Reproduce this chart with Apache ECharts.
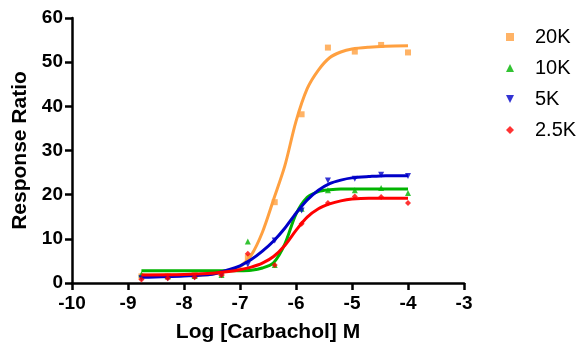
<!DOCTYPE html>
<html>
<head>
<meta charset="utf-8">
<script src="https://cdn.jsdelivr.net/npm/echarts@6/dist/echarts.min.js"></script>
<style>
  html, body { margin: 0; padding: 0; background: #fff; }
  #chart { width: 580px; height: 343px; }
</style>
</head>
<body>
<div id="chart"></div>
<script>
// log concentrations of the measured points (3-fold dilutions down from -4)
const doseLog = [-8.76, -8.29, -7.81, -7.33, -6.86, -6.38, -5.9, -5.43, -4.95, -4.48, -4];

const pts20K = [1.5, 1.6, 1.8, 2.2, 5.8, 18.3, 38.2, 53.3, 52.4, 53.9, 52.2];
const pts10K = [2.0, 1.5, 1.6, 1.8, 9.4, 4.1, 16.8, 21.0, 21.0, 21.5, 20.4];
const pts5K = [1.1, 1.1, 1.3, 1.8, 4.2, 9.6, 16.4, 23.2, 23.6, 24.5, 24.2];
const pts2_5K = [0.8, 1.1, 1.3, 1.8, 6.6, 4.1, 13.4, 18.1, 19.6, 19.5, 18.1];

// fitted curves
const fitLog = [-8.76, -8, -7.5, -7.2, -7, -6.8, -6.6, -6.4, -6.2, -6, -5.8, -5.6, -5.4, -5.2, -5, -4.7, -4.4, -4];
const fit20K = [1.8, 1.8, 2.0, 2.9, 3.7, 6.3, 11.5, 18.9, 26.5, 36.6, 44.0, 48.2, 51.0, 52.3, 53.0, 53.4, 53.6, 53.7];
const fit10K = [2.8, 2.8, 2.8, 2.8, 2.8, 2.9, 3.4, 4.6, 8.8, 15.6, 19.4, 20.7, 21.1, 21.3, 21.3, 21.3, 21.3, 21.3];
const fit5K = [1.3, 1.6, 2.0, 3.0, 3.9, 5.3, 7.2, 9.5, 12.4, 15.8, 18.8, 21.0, 22.5, 23.3, 23.8, 24.1, 24.3, 24.3];
const fit2_5K = [1.8, 1.9, 2.2, 2.6, 3.0, 3.6, 4.5, 6.0, 8.5, 11.9, 14.9, 16.8, 17.9, 18.6, 19.0, 19.2, 19.2, 19.2];

const names = ["20K", "10K", "5K", "2.5K"];
const colors = ["#FFA040", "#00B400", "#0000C8", "#FF0000"];
const symbols = ["rect", "triangle", "path://M0,0 L10,0 L5,10 Z", "diamond"];
const pointSets = [pts20K, pts10K, pts5K, pts2_5K];
const fitSets = [fit20K, fit10K, fit5K, fit2_5K];

const pair = (xs, ys) => xs.map((x, i) => [x, ys[i]]);
const font = "Arial, 'Liberation Sans', sans-serif";

const series = [];
names.forEach((name, i) => {
  series.push({
    name: name + " fit",
    type: "line",
    smooth: 0.3,
    showSymbol: false,
    silent: true,
    z: 2 + i,
    lineStyle: { width: 3, color: colors[i] },
    data: pair(fitLog, fitSets[i]),
  });
  series.push({
    name: name,
    type: "scatter",
    symbol: symbols[i],
    symbolSize: 6,
    z: 2 + i,
    itemStyle: { color: colors[i] },
    data: pair(doseLog, pointSets[i]),
  });
});

const chart = echarts.init(document.getElementById("chart"));
chart.setOption({
  animation: false,
  grid: { left: 72, right: 116, top: 18, bottom: 60, outerBoundsMode: "none" },
  legend: {
    orient: "vertical",
    left: 501,
    top: 21,
    itemWidth: 8,
    itemHeight: 8,
    itemGap: 9,
    data: names.map((n, i) => ({ name: n, icon: symbols[i] })),
    textStyle: {
      fontFamily: font,
      fontSize: 20,
      lineHeight: 22,
      color: "#000",
      padding: [0, 0, 0, 16],
    },
  },
  xAxis: {
    type: "value",
    min: -10,
    max: -3,
    interval: 1,
    name: "Log [Carbachol] M",
    nameLocation: "middle",
    nameGap: 39,
    nameTextStyle: { fontFamily: font, fontSize: 21, fontWeight: "bold", color: "#000" },
    axisLine: { onZero: false, lineStyle: { color: "#000", width: 2.5 } },
    axisTick: { length: 7, lineStyle: { color: "#000", width: 2.5 } },
    axisLabel: { fontFamily: font, fontSize: 19, fontWeight: "bold", color: "#000", margin: 11 },
    splitLine: { show: false },
  },
  yAxis: {
    type: "value",
    min: 0,
    max: 60,
    interval: 10,
    name: "Response Ratio",
    nameLocation: "middle",
    nameGap: 38,
    nameTextStyle: { fontFamily: font, fontSize: 21, fontWeight: "bold", color: "#000" },
    axisLine: { show: true, lineStyle: { color: "#000", width: 2.5 } },
    axisTick: { show: true, length: 7, lineStyle: { color: "#000", width: 2.5 } },
    axisLabel: { fontFamily: font, fontSize: 19, fontWeight: "bold", color: "#000", margin: 9 },
    splitLine: { show: false },
  },
  series: series,
});
</script>
</body>
</html>
